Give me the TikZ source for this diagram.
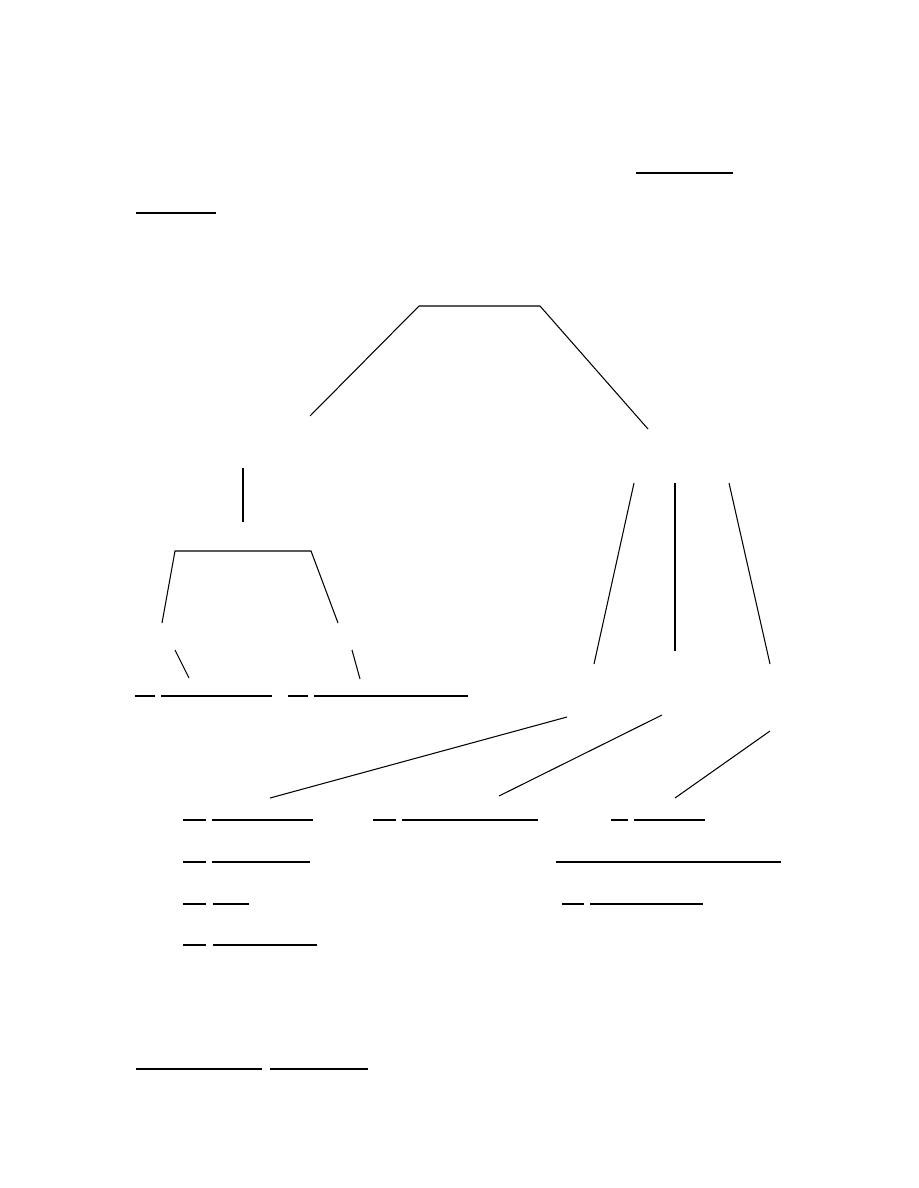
\documentclass[tikz,border=0pt]{standalone}
\tikzstyle{line}=[line width=0.7pt]
\tikzstyle{thickline}=[line width=1.4pt]
\tikzstyle{blank}=[line width=0.8pt]
\newcommand{\drawfield}[5]{
  \draw[blank] (#1,#5) -- (#2,#5);
  \draw[blank] (#3,#5) -- (#4,#5);
}

\begin{document}
\begin{tikzpicture}[x=0.6667pt, y=-0.6667pt]
  \useasboundingbox (0,0) rectangle (918,1188);

  % heading blanks
  \draw[blank] (636,173) -- (733,173);
  \draw[blank] (136,213) -- (216,213);

  % top level
  \coordinate (rootl) at (419,306);
  \coordinate (rootr) at (540,306);
  \coordinate (left)  at (310,416);
  \coordinate (right) at (648,429);
  \draw[line] (left) -- (rootl) -- (rootr) -- (right);

  % left branch
  \coordinate (stemtop) at (243,468);
  \coordinate (stembot) at (243,522);
  \draw[thickline] (stemtop) -- (stembot);
  \coordinate (subl)  at (175,551);
  \coordinate (subr)  at (311,551);
  \coordinate (leafa) at (162,623);
  \coordinate (leafb) at (338,623);
  \draw[line] (leafa) -- (subl) -- (subr) -- (leafb);
  \coordinate (tika) at (175,650);
  \coordinate (tikb) at (352,650);
  \draw[line] (tika) -- (189,678);
  \draw[line] (tikb) -- (360,679);
  \drawfield{135}{155}{161}{272}{696}
  \drawfield{288}{308}{314}{468}{696}

  % right branch
  \coordinate (fanatop) at (634,483);
  \coordinate (fanabot) at (594,664);
  \coordinate (fanbtop) at (675,483);
  \coordinate (fanbbot) at (675,651);
  \coordinate (fanctop) at (729,483);
  \coordinate (fancbot) at (770,664);
  \draw[line] (fanatop) -- (fanabot);
  \draw[thickline] (fanbtop) -- (fanbbot);
  \draw[line] (fanctop) -- (fancbot);

  \coordinate (lowa) at (567,717);
  \coordinate (lowb) at (662,715);
  \coordinate (lowc) at (770,731);
  \coordinate (enda) at (270,798);
  \coordinate (endb) at (499,796);
  \coordinate (endc) at (675,798);
  \draw[line] (lowa) -- (enda);
  \draw[line] (lowb) -- (endb);
  \draw[line] (lowc) -- (endc);

  % answer blanks
  \drawfield{183}{206}{212}{313}{820}
  \drawfield{183}{206}{212}{310}{862}
  \drawfield{183}{206}{213}{249}{904}
  \drawfield{183}{206}{213}{317}{945}
  \drawfield{373}{396}{402}{538}{820}
  \drawfield{611}{628}{634}{705}{820}
  \draw[blank] (556,862) -- (781,862);
  \drawfield{562}{584}{590}{703}{904}

  % footer blanks
  \drawfield{136}{262}{270}{368}{1069}

\end{tikzpicture}
\end{document}
